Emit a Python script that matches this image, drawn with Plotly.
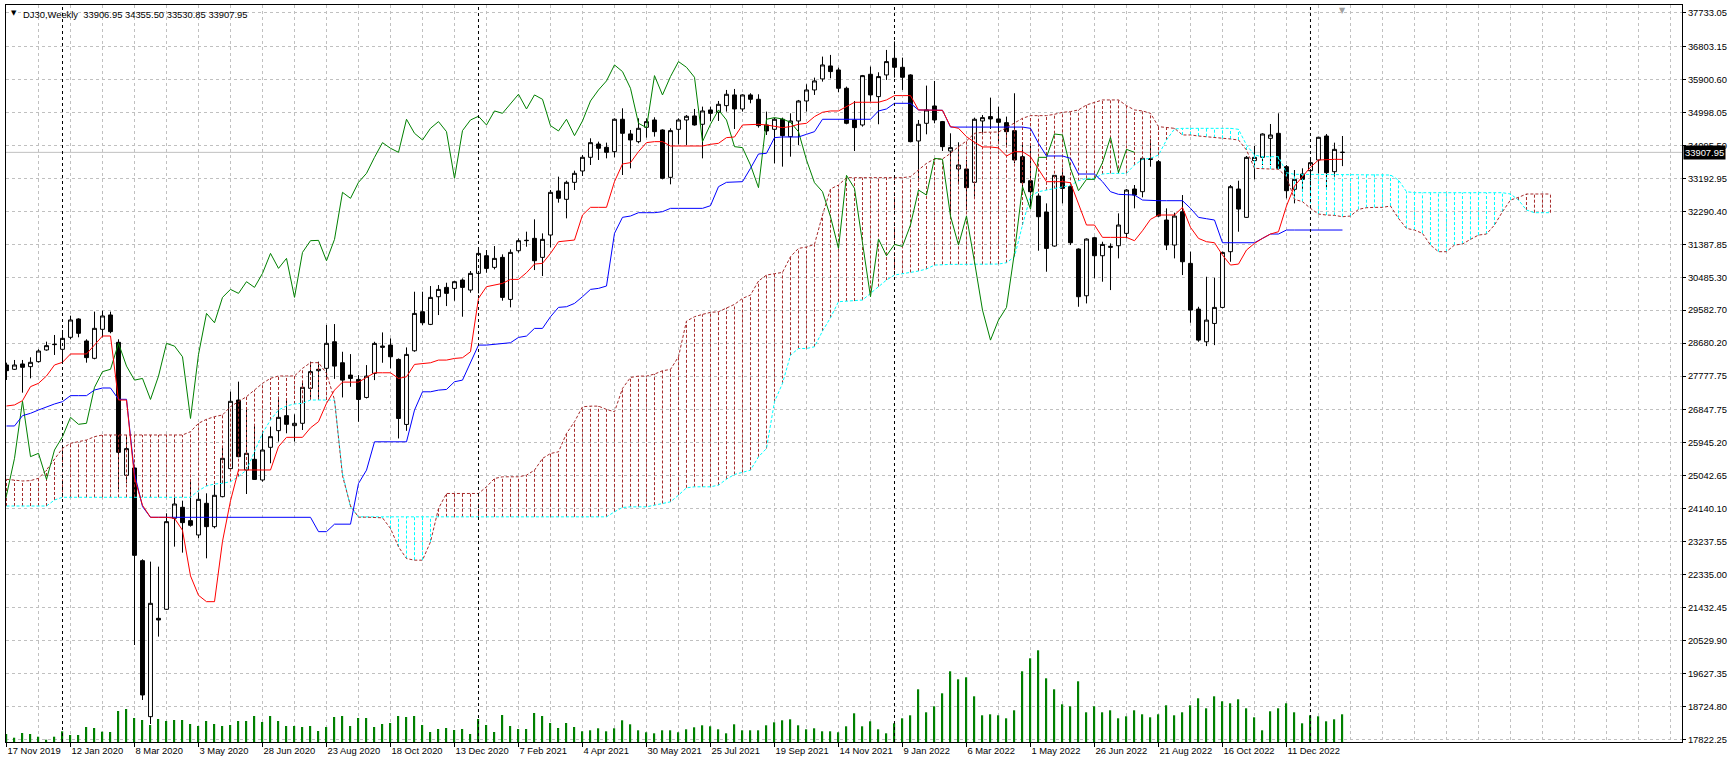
import numpy as np
import pandas as pd
import plotly.graph_objects as go

# ---------------- data ----------------
symbol = "DJ30"
timeframe = "Weekly"
first_week = "2019-11-17"

open_ = [28081, 27962, 28108, 28035, 28172, 28492, 28638, 28510, 28839, 29341,
         28738, 28263, 29058, 29451, 28702, 25057, 25258, 22718, 18443, 21138,
         21385, 23879, 24180, 23815, 23422, 24290, 23650, 24472, 25240, 27121,
         25203, 25495, 24929, 25824, 26281, 26692, 26418, 26482, 27441, 27925,
         27989, 28717, 28142, 27803, 27685, 27191, 27849, 28562, 28626, 28233,
         26451, 28470, 29540, 29193, 29951, 30207, 30180, 30408, 30134, 30591,
         31075, 30756, 31030, 29878, 31212, 31487, 31551, 31030, 31642, 32849,
         32620, 33086, 33397, 33772, 34137, 34046, 33927, 34814, 34412, 34201,
         34594, 34795, 34521, 33223, 34539, 34795, 34905, 34677, 35070, 35006,
         35188, 35481, 35097, 35481, 35362, 34658, 34539, 34814, 34338, 34768,
         35316, 35618, 35920, 36276, 36166, 35664, 34795, 34658, 36047, 35435,
         36029, 36486, 36239, 36029, 34220, 34704, 35179, 34750, 33945, 33452,
         33452, 33086, 34768, 34887, 34823, 34722, 34502, 33789, 33131, 32711,
         32272, 31340, 33259, 32967, 31258, 29978, 31568, 31075, 31303, 31349,
         31687, 32903, 32830, 33735, 33652, 32053, 31367, 32281, 30865, 29612,
         28717, 29219, 29658, 31185, 32903, 32126, 33680, 33771, 34292, 34429,
         33515, 32894, 33314, 33405, 33698, 34356, 33378, 33906.95]

high = [28144, 28218, 28218, 28291, 28510, 28720, 28903, 29040, 29433, 29360,
        28784, 29543, 29570, 29543, 28784, 26162, 25294, 22755, 22691, 22554,
        24016, 24490, 24363, 24947, 24582, 24564, 24792, 25861, 27350, 27624,
        26847, 26436, 26254, 26391, 27213, 27167, 26729, 27624, 28172, 28172,
        29177, 29202, 28443, 28379, 27803, 28078, 28717, 28973, 28809, 28260,
        28562, 30088, 30088, 30244, 30271, 30335, 30390, 30454, 30655, 31277,
        31231, 31340, 31112, 31249, 31551, 31734, 32072, 31688, 32876, 33242,
        33132, 33406, 33836, 34293, 34201, 34174, 34841, 35115, 34521, 34841,
        34841, 34868, 34540, 34567, 34841, 34932, 35097, 35161, 35161, 35316,
        35618, 35645, 35499, 35527, 35499, 35024, 34859, 34859, 34978, 35344,
        35773, 35956, 36532, 36578, 36230, 35709, 35316, 36029, 36258, 36102,
        36715, 36950, 36504, 36047, 34795, 35737, 35865, 34768, 34430, 34183,
        33698, 34859, 34932, 35408, 35161, 34887, 35527, 34155, 34155, 32784,
        32510, 33287, 33470, 33013, 31276, 31550, 31596, 31459, 31413, 32236,
        32903, 33013, 33789, 34265, 33698, 32373, 32254, 32738, 31185, 29676,
        30499, 30471, 31185, 33013, 33131, 33808, 34082, 34429, 34685, 34978,
        33561, 33424, 33470, 33716, 34338, 34411, 34173, 34355.50]

low = [27670, 27944, 27322, 27715, 28144, 28474, 28355, 28172, 28784, 28839,
       28144, 28236, 28839, 28949, 24673, 24838, 20407, 18900, 18242, 20636,
       21366, 23102, 22938, 23650, 23330, 22782, 23604, 24454, 25203, 25550,
       24545, 24929, 24883, 25386, 25980, 26208, 25980, 26299, 27121, 27167,
       27715, 27700, 27191, 27483, 26524, 27164, 27666, 28142, 27986, 26067,
       26277, 28443, 29174, 29174, 29449, 29695, 29842, 29403, 30061, 30043,
       30609, 30701, 29842, 29659, 31158, 31322, 30682, 30518, 31304, 32529,
       32099, 32876, 33260, 33562, 33699, 33744, 33772, 33287, 33470, 34156,
       34311, 34338, 33168, 33031, 34128, 34110, 34640, 33744, 34768, 34768,
       35024, 34548, 35024, 35252, 34585, 34384, 33607, 33516, 33790, 34110,
       35024, 35481, 35846, 35938, 35554, 34677, 33945, 34613, 35298, 34677,
       35892, 35956, 35618, 34183, 33104, 34402, 34704, 33945, 32190, 33031,
       32328, 32693, 34402, 34548, 34201, 34109, 33607, 32830, 32418, 31212,
       30636, 31322, 32510, 31367, 29676, 29768, 30453, 30362, 30133, 31002,
       31550, 32373, 32674, 33515, 32144, 31230, 31002, 30545, 29238, 28717,
       28598, 28625, 29631, 30910, 31733, 32117, 33168, 33561, 33561, 33442,
       32647, 32510, 32830, 32802, 33332, 32921, 33241, 33530.85]

close = [27925, 28081, 28017, 28154, 28464, 28611, 28647, 28811, 29314, 28949,
         28282, 29085, 29424, 28994, 25687, 25788, 22864, 19037, 21549, 21092,
         23787, 24271, 23760, 23687, 24399, 23650, 24509, 25523, 27085, 25568,
         25660, 24944, 25751, 26116, 26646, 26455, 26482, 27469, 27898, 27962,
         28674, 28050, 27666, 27712, 27136, 27776, 28672, 28598, 28306, 26615,
         28370, 29494, 29238, 29933, 30152, 30043, 30363, 30207, 30591, 31139,
         30728, 31002, 29933, 31167, 31487, 31496, 30938, 31523, 32812, 32648,
         33086, 33333, 33772, 34174, 34019, 33909, 34814, 34430, 34247, 34567,
         34750, 34475, 33196, 34503, 34795, 34896, 34658, 35042, 34978, 35225,
         35499, 35097, 35481, 35362, 34640, 34494, 34814, 34366, 34768, 35316,
         35618, 35865, 36303, 36121, 35664, 34704, 34585, 36011, 35481, 35984,
         36395, 36239, 35965, 34201, 34677, 35070, 34795, 34064, 34037, 33561,
         32940, 34814, 34859, 34823, 34731, 34475, 33698, 33076, 32830, 32144,
         31276, 33278, 32921, 31431, 29951, 31532, 31075, 31385, 31331, 31916,
         32875, 32738, 33744, 33716, 32162, 31367, 32162, 30910, 29585, 28762,
         29311, 29658, 31166, 32967, 32354, 33771, 33771, 34411, 34384, 33470,
         32857, 33168, 33168, 33625, 34320, 33351, 33990, 33907.95]

# Ichimoku lines as drawn on the chart
tenkan = [26957, 26985, 27103, 27487, 27578, 27779, 28081, 28154, 28382, 28382,
          28382, 28629, 28875, 28875, 27120, 27120, 24988, 24235, 23906, 23906,
          23906, 23879, 23550, 22300, 21768, 21594, 21594, 23248, 24358, 25203,
          25203, 25203, 25203, 25203, 25842, 26098, 26098, 26098, 26358, 26527,
          27030, 27392, 27611, 27611, 27611, 27739, 27867, 27867, 27867, 27712,
          27758, 28096, 28123, 28141, 28215, 28215, 28260, 28279, 28443, 29906,
          30226, 30271, 30317, 30426, 30426, 30609, 30847, 30865, 31139, 31459,
          31487, 31505, 32190, 32401, 32401, 32401, 33105, 33589, 33626, 33927,
          34174, 34201, 34201, 34082, 34082, 34082, 34082, 34082, 34128, 34155,
          34311, 34329, 34658, 34677, 34677, 34658, 34613, 34585, 34613, 34677,
          34704, 34887, 35006, 35042, 35042, 35161, 35280, 35280, 35280, 35280,
          35344, 35463, 35463, 35463, 35070, 35060, 35060, 35060, 34613, 34567,
          34338, 34183, 34055, 34055, 34030, 33808, 33926, 33926, 33789, 33442,
          33104, 33104, 33104, 33076, 32510, 31916, 31916, 31578, 31578, 31578,
          31578, 31486, 31760, 32071, 32190, 32190, 32190, 32400, 31852, 31550,
          31459, 31431, 31093, 30819, 30846, 31230, 31413, 31550, 31669, 31733,
          32437, 32985, 33259, 33500, 33698, 33716, 33716, 33716]

kijun = [26409, 26409, 26692, 26756, 26847, 26939, 27012, 27076, 27240, 27240,
         27240, 27395, 27450, 27450, 27140, 27140, 25100, 24200, 23906, 23906,
         23906, 23906, 23906, 23906, 23906, 23906, 23906, 23906, 23906, 23906,
         23906, 23906, 23906, 23906, 23906, 23906, 23906, 23906, 23906, 23513,
         23513, 23718, 23718, 23718, 24833, 25198, 25975, 25975, 25975, 25975,
         25975, 26844, 27346, 27346, 27392, 27410, 27621, 27666, 28123, 28626,
         28626, 28654, 28672, 28690, 28836, 28873, 29083, 29083, 29403, 29659,
         29677, 29768, 29951, 30152, 30180, 30244, 31688, 32127, 32163, 32254,
         32254, 32254, 32282, 32373, 32373, 32373, 32373, 32373, 32446, 32967,
         33086, 33104, 33104, 33470, 33863, 33881, 34311, 34329, 34329, 34329,
         34402, 34475, 34814, 34814, 34814, 34814, 34814, 34814, 34814, 35042,
         35097, 35252, 35252, 35252, 35070, 35060, 35060, 35060, 34600, 34600,
         34600, 34600, 34600, 34600, 34600, 34600, 34600, 34600, 34566, 34155,
         33808, 33808, 33808, 33744, 33314, 33314, 33314, 33104, 32830, 32757,
         32757, 32738, 32601, 32583, 32583, 32583, 32583, 32583, 32373, 32126,
         32089, 32053, 31431, 31431, 31431, 31431, 31431, 31550, 31669, 31669,
         31779, 31779, 31779, 31779, 31779, 31779, 31779, 31779]

# Senkou spans as drawn (already shifted 26 bars ahead, so they run past the last bar)
span_a = [24947, 24929, 24902, 24911, 24975, 25203, 25495, 25797, 25934, 25970,
          26025, 26116, 26162, 26162, 26162, 26162, 26162, 26162, 26162, 26162,
          26162, 26162, 26162, 26253, 26482, 26592, 26665, 26710, 26939, 27076,
          27213, 27395, 27578, 27715, 27779, 27779, 27779, 27989, 28144, 28144,
          27852, 27127, 25043, 24221, 23910, 23910, 23910, 23892, 23599, 23096,
          22776, 22731, 22731, 23233, 24148, 24559, 24559, 24559, 24559, 24559,
          24742, 24970, 25016, 25016, 25016, 25061, 25198, 25518, 25655, 25701,
          26204, 26524, 26935, 26953, 26953, 26862, 26798, 27438, 27739, 27776,
          27776, 27831, 27922, 27959, 28306, 29284, 29403, 29467, 29522, 29540,
          29650, 29741, 29906, 29997, 30381, 30545, 30582, 30618, 31048, 31276,
          31313, 31386, 32190, 32903, 33013, 33214, 33214, 33214, 33214, 33214,
          33214, 33214, 33214, 33242, 33424, 33607, 33726, 33726, 33881, 34064,
          34220, 34430, 34457, 34457, 34465, 34585, 34704, 34841, 34914, 34914,
          34914, 34951, 35005, 35024, 35070, 35207, 35280, 35344, 35344, 35344,
          35188, 35070, 35042, 34978, 34612, 34594, 34566, 34384, 34384, 34356,
          34338, 34310, 34292, 34274, 34246, 33972, 33470, 33451, 33451, 33442,
          33241, 32620, 32556, 32373, 32217, 32190, 32181, 32144, 32162, 32345,
          32391, 32400, 32400, 32437, 32099, 31824, 31779, 31687, 31367, 31185,
          31185, 31367, 31395, 31523, 31641, 31669, 31916, 32281, 32601, 32674,
          32766, 32766, 32766, 32766]

span_b = [24216, 24216, 24216, 24216, 24216, 24216, 24381, 24454, 24454, 24454,
          24454, 24454, 24454, 24454, 24454, 24454, 24454, 24454, 24454, 24454,
          24454, 24454, 24454, 24454, 24637, 24765, 24819, 24838, 24883, 25020,
          25203, 25705, 26208, 26573, 26847, 26957, 27012, 27030, 27121, 27121,
          27121, 27118, 25107, 24193, 23919, 23919, 23919, 23919, 23919, 23919,
          23919, 23919, 23919, 23919, 23919, 23919, 23919, 23919, 23919, 23919,
          23919, 23919, 23919, 23919, 23919, 23919, 23919, 23919, 23919, 23919,
          23919, 23919, 23919, 23919, 23919, 23919, 24056, 24175, 24193, 24193,
          24193, 24239, 24285, 24330, 24513, 24714, 24742, 24742, 24742, 24787,
          24952, 25080, 25134, 25198, 25564, 25792, 27072, 27575, 28349, 28532,
          28532, 28580, 29010, 29375, 29814, 29832, 29832, 29860, 30043, 30226,
          30408, 30545, 30591, 30618, 30655, 30710, 30819, 30838, 30838, 30838,
          30838, 30838, 30838, 30838, 30846, 30883, 31048, 31916, 32711, 32830,
          32876, 32912, 32949, 33004, 33131, 33195, 33195, 33314, 33332, 33332,
          33332, 33561, 33716, 33744, 33835, 34246, 34548, 34566, 34566, 34566,
          34566, 34566, 34566, 34566, 34539, 34109, 33835, 33789, 33789, 33789,
          33351, 33305, 33305, 33305, 33305, 33305, 33305, 33305, 33305, 33305,
          33305, 33305, 33305, 33287, 33150, 32830, 32802, 32802, 32802, 32802,
          32802, 32802, 32802, 32802, 32802, 32802, 32802, 32802, 32766, 32601,
          32327, 32254, 32254, 32254]

# tick volume (thousands of ticks)
tick_volume_k = [8, 4.3, 9, 8, 5.3, 2.3, 5.3, 10.7, 7, 7,
                 15, 14, 10.3, 10, 31, 33, 24, 22, 17, 23,
                 21, 22, 22, 18, 16, 21, 18, 16, 17, 21,
                 21, 26, 20, 26, 21, 16, 16, 15, 16, 11,
                 15, 25, 26, 16, 24, 24, 15, 18, 19, 26,
                 25, 26, 17, 10, 13, 14, 12, 13, 8, 23,
                 17, 10, 27, 16, 13, 13, 29, 26, 19, 14,
                 19, 15, 10.7, 11.7, 13.7, 10.7, 13.7, 21.7, 17.7, 11.7,
                 9.7, 8.7, 11.7, 11.7, 9.7, 12.7, 14.7, 16.7, 15.7, 12.7,
                 8.7, 17.7, 11.7, 11.7, 11.7, 16.7, 19.7, 21.7, 22.7, 16.7,
                 12.7, 13.7, 10.7, 10.7, 9.7, 15.7, 28.7, 15.7, 20.7, 12.7,
                 8.7, 18.7, 23.7, 26.7, 52.7, 29.7, 35.7, 48.7, 70.7, 62.7,
                 64.7, 45.7, 26.7, 27.7, 26.7, 23.7, 31.7, 70.7, 83.7, 91.7,
                 63.7, 52.7, 37.7, 35.7, 60.7, 29.7, 35.7, 29.7, 31.7, 23.7,
                 25.7, 31.7, 27.7, 24.7, 27.7, 36.7, 26.7, 29.7, 36.7, 43.7,
                 33.7, 45.7, 40.7, 38.7, 42.7, 33.7, 24.7, 11.7, 30.7, 33.7,
                 38.7, 29.7, 18.7, 26.7, 25.7, 20.7, 22.7, 27.7]

price_ticks = [37733.05, 36803.15, 35900.60, 34998.05, 34095.50, 33192.95, 32290.40,
               31387.85, 30485.30, 29582.70, 28680.20, 27777.75, 26847.75, 25945.20,
               25042.65, 24140.10, 23237.55, 22335.00, 21432.45, 20529.90, 19627.35,
               18724.80, 17822.25]

chikou_shift = 26
label_every = 8
grid_every = 4

# ---------------- derived positions ----------------
n = len(close)
idx = np.arange(n)
dates = pd.date_range(first_week, periods=n, freq="7D")
label_idx = list(range(0, n, label_every))
label_txt = [f"{dates[i].day} {dates[i]:%b %Y}" for i in label_idx]
year_sep = [i for i in range(1, n) if dates[i].year != dates[i - 1].year]

RED_K = "#a52a2a"
CYAN_K = "#00ffff"
GRID = "#c0c0c0"
FONT = "Liberation Sans, Arial, sans-serif"

fig = go.Figure()

# volumes (own hidden axis at the bottom)
fig.add_trace(go.Bar(x=idx, y=tick_volume_k, yaxis="y2", width=0.17,
                     marker=dict(color="#008000", line=dict(width=0)),
                     hoverinfo="skip"))

# kumo hatch
rx, ry, cx, cy = [], [], [], []
for i, (a, b) in enumerate(zip(span_a, span_b)):
    if a >= b:
        rx += [i, i, None]
        ry += [b, a, None]
    else:
        cx += [i, i, None]
        cy += [a, b, None]
fig.add_trace(go.Scatter(x=rx, y=ry, mode="lines", hoverinfo="skip",
                         line=dict(color=RED_K, width=1, dash="3px,2px")))
fig.add_trace(go.Scatter(x=cx, y=cy, mode="lines", hoverinfo="skip",
                         line=dict(color=CYAN_K, width=1, dash="3px,2px")))
kumo_x = np.arange(len(span_a))
fig.add_trace(go.Scatter(x=kumo_x, y=span_b, mode="lines", hoverinfo="skip",
                         line=dict(color=CYAN_K, width=1, dash="3px,2px")))
fig.add_trace(go.Scatter(x=kumo_x, y=span_a, mode="lines", hoverinfo="skip",
                         line=dict(color=RED_K, width=1, dash="3px,2px")))

# chikou span: close plotted 26 bars back
fig.add_trace(go.Scatter(x=idx - chikou_shift, y=close, mode="lines", hoverinfo="skip",
                         line=dict(color="#008000", width=1)))
fig.add_trace(go.Scatter(x=idx, y=kijun, mode="lines", hoverinfo="skip",
                         line=dict(color="#0000ff", width=1)))
fig.add_trace(go.Scatter(x=idx, y=tenkan, mode="lines", hoverinfo="skip",
                         line=dict(color="#ff0000", width=1)))

fig.add_trace(go.Candlestick(
    x=idx, open=open_, high=high, low=low, close=close, whiskerwidth=0,
    increasing=dict(line=dict(color="black", width=1), fillcolor="white"),
    decreasing=dict(line=dict(color="black", width=1), fillcolor="black"),
    hoverinfo="skip"))

# year separators
for i in year_sep:
    fig.add_shape(type="line", xref="x", yref="paper", x0=i, x1=i, y0=0, y1=1,
                  line=dict(color="black", width=1, dash="3px,3px"), layer="above")

# current price line
fig.add_shape(type="line", xref="paper", yref="y", x0=0, x1=1, y0=close[-1], y1=close[-1],
              line=dict(color=GRID, width=1), layer="below")

# header
fig.add_annotation(xref="paper", yref="paper", x=0, y=1, xanchor="left", yanchor="top",
                   xshift=3, yshift=-2, text="▼", showarrow=False,
                   font=dict(size=7, color="black", family="DejaVu Sans"))
fig.add_annotation(xref="paper", yref="paper", x=0, y=1, xanchor="left", yanchor="top",
                   xshift=15, yshift=-2, showarrow=False,
                   text=f"{symbol},{timeframe}  {open_[-1]:.2f} {high[-1]:.2f} {low[-1]:.2f} {close[-1]:.2f}",
                   font=dict(size=9.4, color="black", family=FONT))
# chart shift marker
fig.add_annotation(xref="x", yref="paper", x=n - 1, y=1, yanchor="top", yshift=1,
                   text="▼", showarrow=False, font=dict(size=8, color="#a0a0a0", family="DejaVu Sans"))
# current price tag (covers the neighbouring axis label, as in the terminal)
fig.add_annotation(xref="paper", yref="y", x=1, y=close[-1], xanchor="left", xshift=1,
                   text=f"{close[-1]:.2f}", showarrow=False, bgcolor="black", borderpad=1,
                   font=dict(size=9.4, color="white", family=FONT))

fig.update_layout(
    width=1735, height=761,
    margin=dict(l=6, r=53, t=5, b=19),
    paper_bgcolor="white", plot_bgcolor="white",
    showlegend=False, boxgap=0.3, boxgroupgap=0.3,
    font=dict(family=FONT, size=9.4, color="black"),
    xaxis=dict(range=[-0.0625, 209.44], rangeslider=dict(visible=False),
               tickmode="array", tickvals=label_idx, ticktext=label_txt,
               ticks="outside", ticklen=4, tickcolor="black",
               ticklabelposition="outside right",
               showgrid=True, gridcolor=GRID, griddash="3px,3px", gridwidth=1,
               minor=dict(tickmode="linear", tick0=0, dtick=grid_every, showgrid=True,
                          gridcolor=GRID, griddash="3px,3px", gridwidth=1, ticks=""),
               showline=True, mirror=True, linecolor="black", linewidth=1,
               zeroline=False, fixedrange=True),
    yaxis=dict(side="right", range=[17748.3, 37946],
               tickmode="array", tickvals=price_ticks,
               ticktext=[f"{v:.2f}" for v in price_ticks],
               ticks="outside", ticklen=3, tickcolor="black",
               showgrid=True, gridcolor=GRID, griddash="3px,3px", gridwidth=1,
               showline=True, mirror=True, linecolor="black", linewidth=1,
               zeroline=False, fixedrange=True),
    yaxis2=dict(overlaying="y", range=[0, 737], visible=False, fixedrange=True),
)

fig.write_html("out.html", config={"displayModeBar": False},
               post_script="document.body.style.margin='0px';document.body.style.overflow='hidden';")
